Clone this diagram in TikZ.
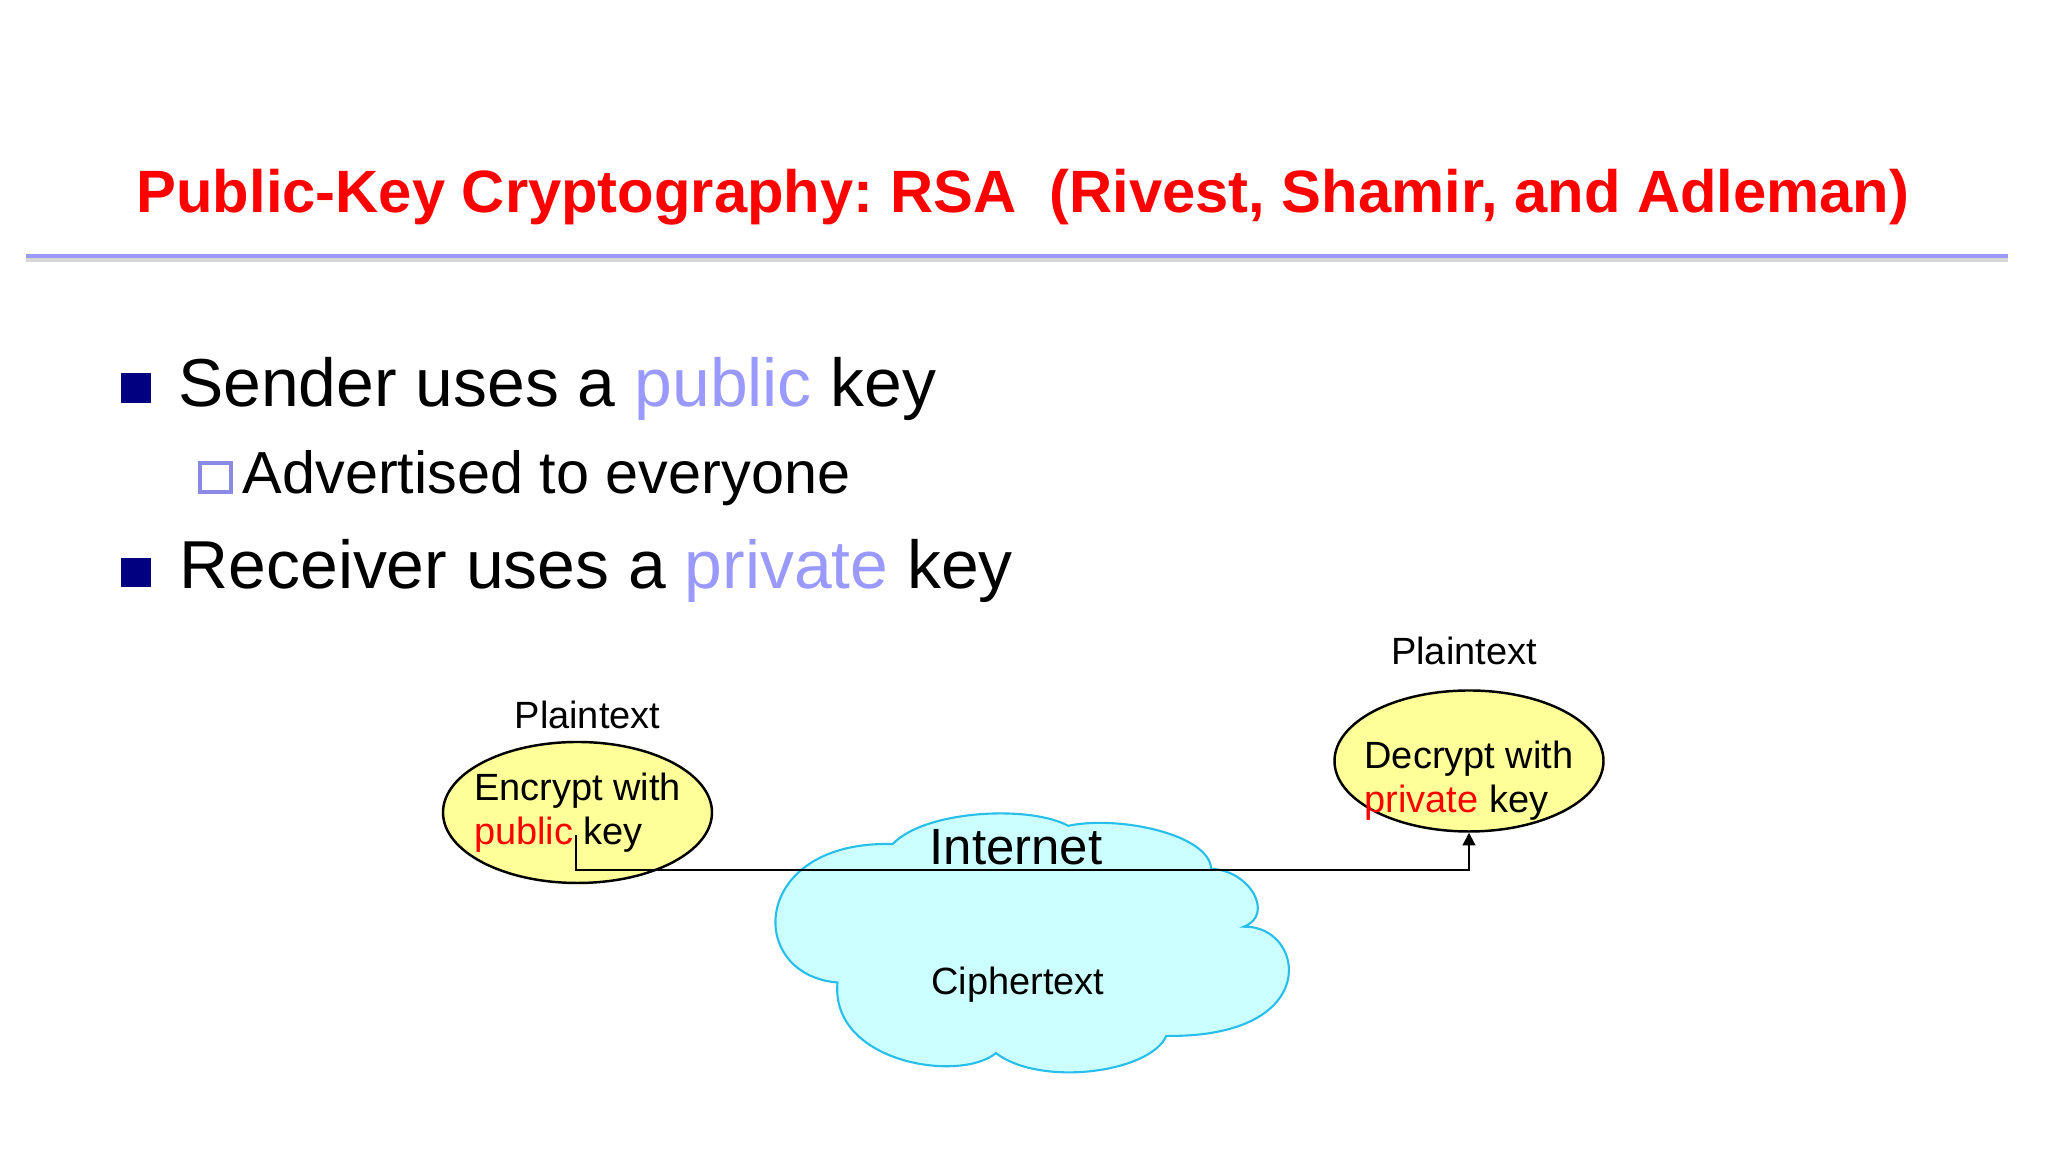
\documentclass[tikz,border=0pt]{standalone}
\usepackage{fontspec}
\setmainfont{Liberation Sans}
\usepackage{tikz}
\usetikzlibrary{arrows.meta,positioning,shapes.geometric}
\definecolor{rsared}{RGB}{255,0,0}
\definecolor{rsalavender}{RGB}{153,153,255}
\definecolor{rsanavy}{RGB}{0,0,128}
\definecolor{rsayellow}{RGB}{255,255,153}
\definecolor{rsacloud}{RGB}{204,255,255}
\definecolor{rsacloudline}{RGB}{40,190,235}
\definecolor{rsashadow}{RGB}{215,215,215}
\frenchspacing

\begin{document}
\begin{tikzpicture}[
  bigtext/.style={inner sep=0pt, anchor=base west, font=\fontsize{19.3}{23}\selectfont},
  subtext/.style={inner sep=0pt, anchor=base west, font=\fontsize{16.9}{20}\selectfont},
  smalltext/.style={inner sep=0pt, font=\fontsize{10.8}{12.5}\selectfont},
  keyblob/.style={ellipse, draw=black, line width=0.7pt, fill=rsayellow,
    minimum width=2.69cm, minimum height=1.41cm, inner xsep=-0.2cm, inner ysep=0pt,
    align=left, font=\fontsize{10.8}{12.5}\selectfont},
  wire/.style={line width=0.6pt, -{Triangle[length=3.6pt,width=3.6pt]}}
]
\useasboundingbox (0,0) rectangle (20.48,11.52);
% Title and rule
\node[inner sep=0pt, anchor=base, text=rsared, font=\fontsize{17}{20}\selectfont\bfseries]
  (title) at (10.23,9.39) {Public-Key Cryptography: RSA\ \ (Rivest, Shamir, and Adleman)};
\draw[rsashadow, line width=2pt] (0.26,8.93) -- (20.08,8.93);
\draw[rsalavender, line width=1.15pt] (0.26,8.96) -- (20.08,8.96);
% Bullets
\fill[rsanavy] (1.21,7.49) rectangle (1.51,7.79);
\node[bigtext] (sender) at (1.776,7.45) {Sender uses a {\color{rsalavender}public} key};
\draw[rsalavender!90!black, line width=0.9pt] (2.00,6.60) rectangle (2.31,6.89);
\node[subtext] (advert) at (2.42,6.58) {Advertised to everyone};
\fill[rsanavy] (1.21,5.65) rectangle (1.51,5.94);
\node[bigtext] (receiver) at (1.79,5.63) {Receiver uses a {\color{rsalavender}private} key};
% Cloud
\draw[rsacloudline, fill=rsacloud, line width=0.6pt]
  (8.375,1.695) .. controls (7.45,1.77) and (7.50,3.12) .. (8.926,3.079)
  .. controls (9.25,3.42) and (10.30,3.47) .. (10.682,3.262)
  .. controls (11.20,3.37) and (12.10,3.17) .. (12.111,2.831)
  .. controls (12.50,2.82) and (12.75,2.37) .. (12.438,2.253)
  .. controls (13.05,2.27) and (13.25,1.14) .. (11.663,1.161)
  .. controls (11.50,0.79) and (10.40,0.65) .. (9.959,0.989)
  .. controls (9.60,0.69) and (8.30,0.89) .. cycle;
\node[inner sep=0pt, anchor=base, font=\fontsize{14.5}{17}\selectfont] (internet) at (10.16,2.87) {Internet};
\node[smalltext, anchor=base] (cipher) at (10.18,1.57) {Ciphertext};
% Encrypt / decrypt
\node[keyblob] (enc) at (5.775,3.395) {Encrypt with\\{\color{rsared}public} key};
\node[keyblob, text height=1.1cm, inner ysep=-0.15cm] (dec) at (14.69,3.91) {Decrypt with\\{\color{rsared}private} key};
\node[smalltext, above=0.11cm of enc, xshift=0.1cm] (plainl) {Plaintext};
\node[smalltext, above=0.24cm of dec, xshift=-0.05cm] (plainr) {Plaintext};
% Connector
\coordinate (src) at (5.76,3.17);
\coordinate (knee) at (5.76,2.82);
\draw[wire] (src) -- (knee) -| (dec.south);
\end{tikzpicture}
\end{document}
